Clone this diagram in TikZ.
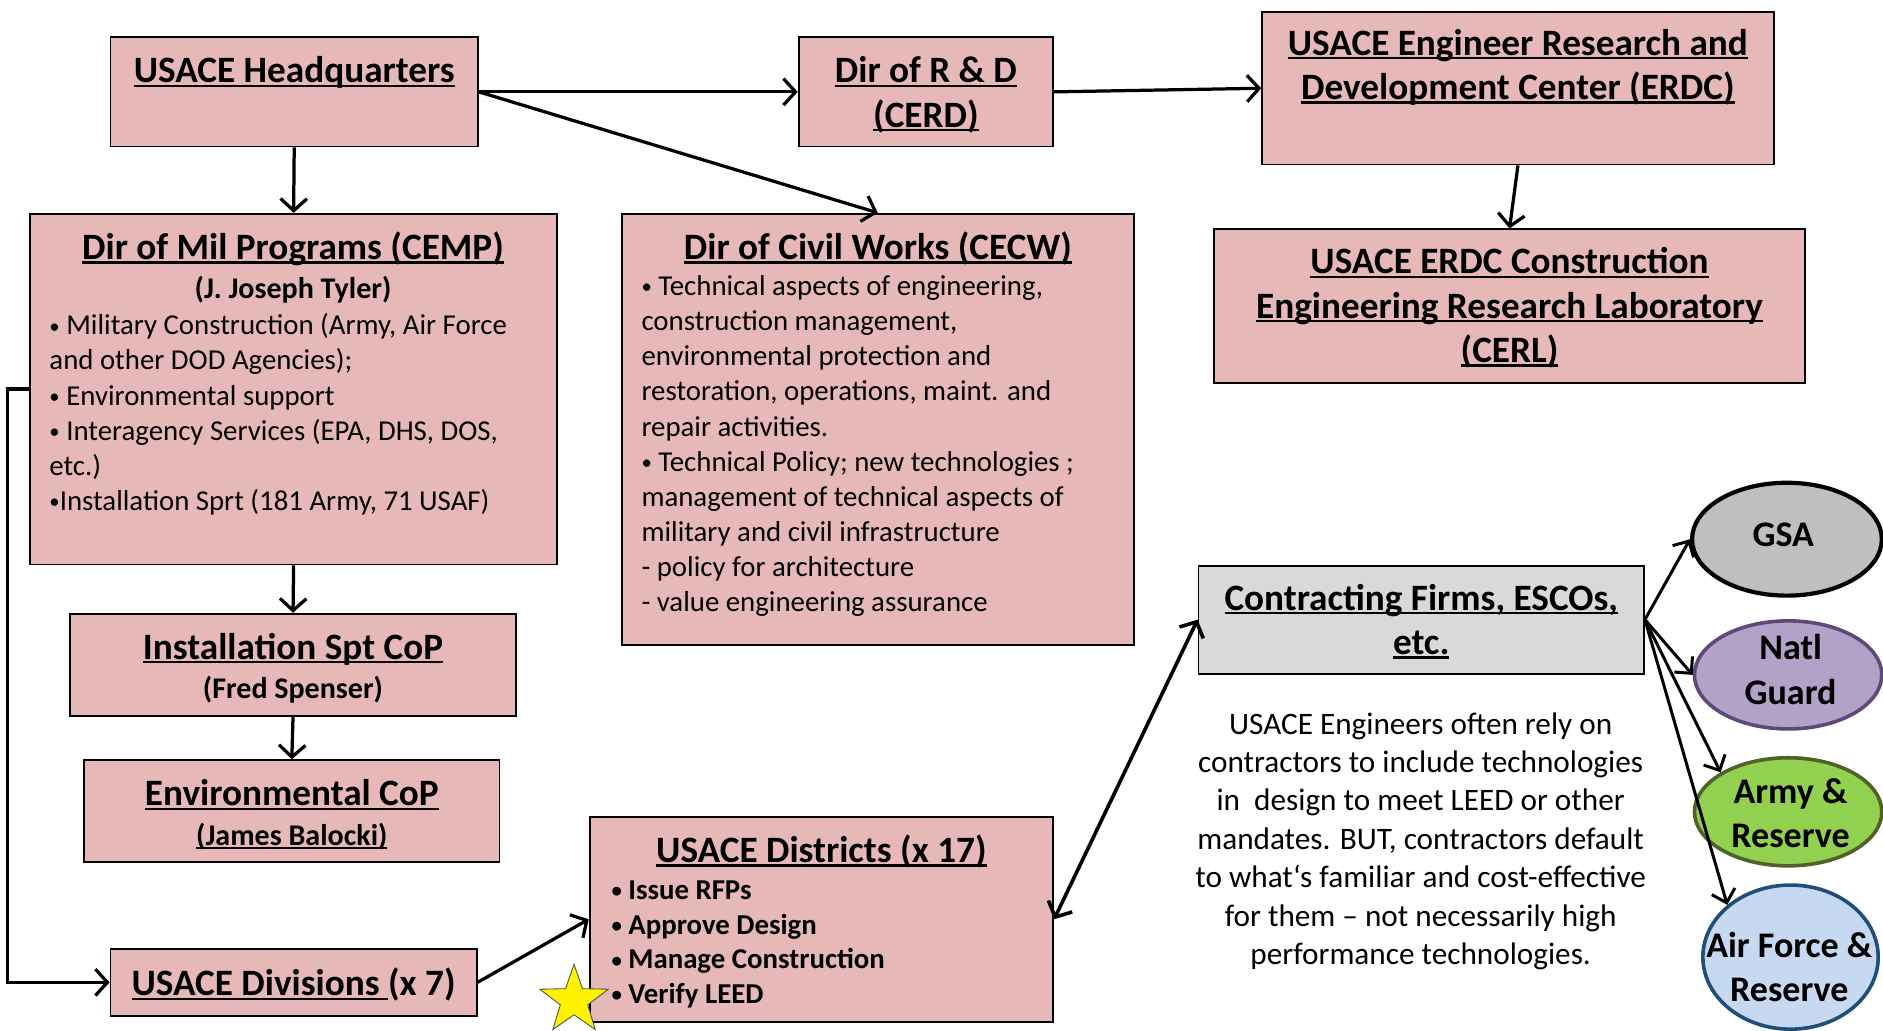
\documentclass[tikz,border=0pt]{standalone}
\usepackage{fontspec}
\setmainfont{Carlito}
\newcommand\myul[1]{\leavevmode\setbox0\hbox{#1}\rlap{\rule[-3.5pt]{\wd0}{2pt}}\box0}
\newcommand\bul{\raisebox{0.06em}{\scalebox{0.72}{•}}}
\usetikzlibrary{arrows.meta,shapes.geometric}
\definecolor{pinkbg}{HTML}{E6B9B8}
\definecolor{greybg}{HTML}{D9D9D9}
\definecolor{gsabg}{HTML}{BFBFBF}
\definecolor{natlbg}{HTML}{B3A2C7}
\definecolor{natlbd}{HTML}{5F497A}
\definecolor{armybg}{HTML}{92D050}
\definecolor{armybd}{HTML}{4F6228}
\definecolor{afbg}{HTML}{C6D9F1}
\definecolor{afbd}{HTML}{1F4E79}
\begin{document}
\begin{tikzpicture}[x=1pt,y=-1pt,
  box/.style={draw=black, line width=1.5pt, fill=pinkbg, inner sep=0pt},
  ttl/.style={font=\bfseries\fontsize{31}{37}\selectfont, align=center, anchor=north, inner sep=0pt},
  subt/.style={font=\bfseries\fontsize{25}{30}\selectfont, align=center, anchor=north, inner sep=0pt},
  body/.style={font=\fontsize{24}{29.3}\selectfont, align=left, anchor=north west, inner sep=0pt},
  bodyb/.style={font=\bfseries\fontsize{24}{29}\selectfont, align=left, anchor=north west, inner sep=0pt},
  para/.style={font=\fontsize{26}{32}\selectfont, align=center, anchor=north, inner sep=0pt},
  ell/.style={ellipse, inner sep=0pt},
  etxt/.style={font=\bfseries\fontsize{30}{37}\selectfont, align=center, anchor=north, inner sep=0pt},
  arr/.style={line width=2.7pt, -{Straight Barb[length=10pt,width=22pt]}},
  arrs/.style={line width=2.5pt, -{Straight Barb[length=10pt,width=20pt]}}
]
\useasboundingbox[fill=white] (0,0) rectangle (1568,858);

% boxes
\node[box, minimum width=306pt, minimum height=91pt] (hq) at (245,76.5) {};
\node[box, minimum width=212pt, minimum height=91pt] (cerd) at (771,76.5) {};
\node[box, minimum width=426pt, minimum height=127pt] (erdc) at (1264,73.5) {};
\node[box, minimum width=492pt, minimum height=128pt] (cerl) at (1257,255) {};
\node[box, minimum width=439pt, minimum height=292pt] (cemp) at (244.5,324) {};
\node[box, minimum width=426pt, minimum height=359pt] (cecw) at (731,357.5) {};
\node[box, minimum width=372pt, minimum height=85pt] (inst) at (244,553.5) {};
\node[box, minimum width=346pt, minimum height=85pt] (env) at (243,675.5) {};
\node[box, minimum width=305pt, minimum height=56pt] (div) at (244.5,818) {};
\node[box, minimum width=386pt, minimum height=171pt] (dist) at (684,765.5) {};
\node[box, fill=greybg, minimum width=371pt, minimum height=90pt] (contr) at (1183.5,516) {};

% ellipses
\node[ell, fill=gsabg, draw=black, line width=3.5pt, minimum width=158pt, minimum height=94pt] (gsa) at (1488,449) {};
\node[ell, fill=natlbg, draw=natlbd, line width=3pt, minimum width=156pt, minimum height=90pt] (natl) at (1489,562) {};
\node[ell, fill=armybg, draw=armybd, line width=3pt, minimum width=156pt, minimum height=90pt] (army) at (1489,676) {};
\node[ell, fill=afbg, draw=afbd, line width=3pt, minimum width=146pt, minimum height=120pt] (af) at (1491,797) {};

% texts
\node[ttl] (hqt) at (245,47) {\myul{USACE Headquarters}};
\node[ttl] (cerdt) at (771,47) {\myul{Dir of R \& D}\\\myul{(CERD)}};
\node[ttl] (erdct) at (1264,24) {\myul{USACE Engineer Research and}\\\myul{Development Center (ERDC)}};
\node[ttl] (cerlt) at (1257,206) {\myul{USACE ERDC Construction}\\\myul{Engineering Research Laboratory}\\\myul{(CERL)}};
\node[ttl] (cempt) at (244,193) {\myul{Dir of Mil Programs (CEMP)}};
\node[subt] (cemps) at (244,230) {(J. Joseph Tyler)};
\node[body] (cempb) at (41,261) {\bul\ Military Construction (Army, Air Force\\and other DOD Agencies);\\\bul\ Environmental support\\\bul\ Interagency Services (EPA, DHS, DOS,\\etc.)\\\bul Installation Sprt (181 Army, 71 USAF)};
\node[ttl] (cecwt) at (731,193) {\myul{Dir of Civil Works (CECW)}};
\node[body] (cecwb) at (534,229) {\bul\ Technical aspects of engineering,\\construction management,\\environmental protection and\\restoration, operations, maint. and\\repair activities.\\\bul\ Technical Policy; new technologies ;\\management of technical aspects of\\military and civil infrastructure\\- policy for architecture\\- value engineering assurance};
\node[ttl] (instt) at (244,527) {\myul{Installation Spt CoP}};
\node[subt] (insts) at (244,563) {(Fred Spenser)};
\node[ttl] (envt) at (243,649) {\myul{Environmental CoP}};
\node[subt] (envs) at (243,685) {\myul{(James Balocki)}};
\node[ttl] (divt) at (244.5,806) {\myul{USACE Divisions\ }(x 7)};
\node[ttl] (distt) at (684,695) {\myul{USACE Districts (x 17)}};
\node[bodyb] (distb) at (509,733) {\bul\ Issue RFPs\\\bul\ Approve Design\\\bul\ Manage Construction\\\bul\ Verify LEED};
\node[ttl] (contrt) at (1183.5,486) {\myul{Contracting Firms, ESCOs,}\\\myul{etc.}};
\node[para] (note) at (1183,593) {USACE Engineers often rely on\\contractors to include technologies\\in~ design to meet LEED or other\\mandates. BUT, contractors default\\to what‘s familiar and cost-effective\\for them – not necessarily high\\performance technologies.};
\node[etxt] (gsat) at (1485,435) {GSA};
\node[etxt] (natlt) at (1491,528) {Natl\\Guard};
\node[etxt] (armyt) at (1491,648) {Army \&\\Reserve};
\node[etxt] (aft) at (1490,776) {Air Force \&\\Reserve};

% star
\node[star, star points=5, star point ratio=2.5, minimum size=60pt, inner sep=0pt, fill=yellow, draw=black!70, line width=0.7pt] (star) at (478,833) {};

% connectors
\draw[arr] (hq.east) -- (cerd.west);
\draw[arr] (hq.east) -- (cecw.north);
\draw[arr] (cerd.east) -- (erdc.west);
\draw[arr] (erdc.south) -- (cerl.north);
\draw[arr] (hq.south) -- (cemp.north);
\draw[arr] (cemp.south) -- (inst.north);
\draw[arr] (inst.south) -- (env.north);
\draw[arr] (cemp.west) -- ++(-18,0) |- (div.west);
\draw[arr] (div.east) -- (dist.west);
\draw[line width=3pt, {Straight Barb[length=10pt,width=22pt]}-{Straight Barb[length=10pt,width=22pt]}] (contr.west) -- (dist.east);
\draw[arrs] (contr.east) -- (gsa.west);
\draw[arrs] (contr.east) -- (natl.west);
\draw[arrs] (contr.east) -- (army.north west);
\draw[arrs] (contr.east) -- (af.north west);
\end{tikzpicture}
\end{document}
